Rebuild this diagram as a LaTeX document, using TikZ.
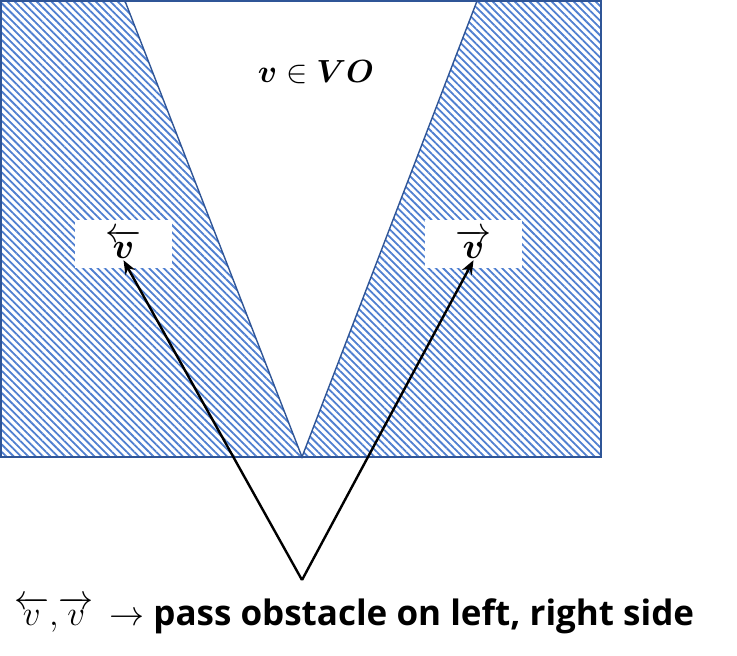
\RequirePackage{fix-cm}
\documentclass[tikz,border=0pt]{standalone}
\usepackage{fontspec}
\setmainfont{Open Sans}
\usepackage{amsmath,bm}
\usetikzlibrary{patterns.meta,arrows.meta}
\definecolor{hatch}{HTML}{4F7FD0}
\definecolor{edge}{HTML}{2F5597}
\tikzset{
  lblbox/.style={fill=white,inner sep=0pt,minimum width=97pt,minimum height=48pt,font=\fontsize{36}{40}\selectfont},
  ptr/.style={draw=black,line width=2.4pt,-{Stealth[length=14pt,width=11pt]}},
  border/.style={draw=edge,line width=1.4pt}
}
\begin{document}
\begin{tikzpicture}[x=1pt,y=-1pt]
\useasboundingbox (0,0) rectangle (737,656);
% hatched obstacle region
\fill[pattern={Lines[angle=-45,distance=5.2pt,line width=1.8pt]},pattern color=hatch] (1,1) rectangle (601,457);
\fill[white] (125,0) -- (477,0) -- (302,457) -- cycle;
\draw[border] (1,1) rectangle (601,457);
\draw[border] (125,1) -- (302,457) -- (477,1);
\node[font=\fontsize{32}{36}\selectfont] (vo) at (316,72) {$\bm{v}\in\bm{VO}$};
\node[lblbox] (lbox) at (123.5,244) {$\overleftarrow{\bm{v}}$};
\node[lblbox] (rbox) at (473.5,244) {$\overrightarrow{\bm{v}}$};
\coordinate (src) at (302,580);
\node[font=\bfseries\fontsize{35}{42}\selectfont,anchor=base west,inner sep=0pt] (cap) at (14,625) {$\overleftarrow{v},\!\overrightarrow{v}\,\rightarrow$ pass obstacle on left, right side};
\draw[ptr] (src) -- ([yshift=8pt]lbox.south);
\draw[ptr] (src) -- ([yshift=8pt]rbox.south);
\end{tikzpicture}
\end{document}
